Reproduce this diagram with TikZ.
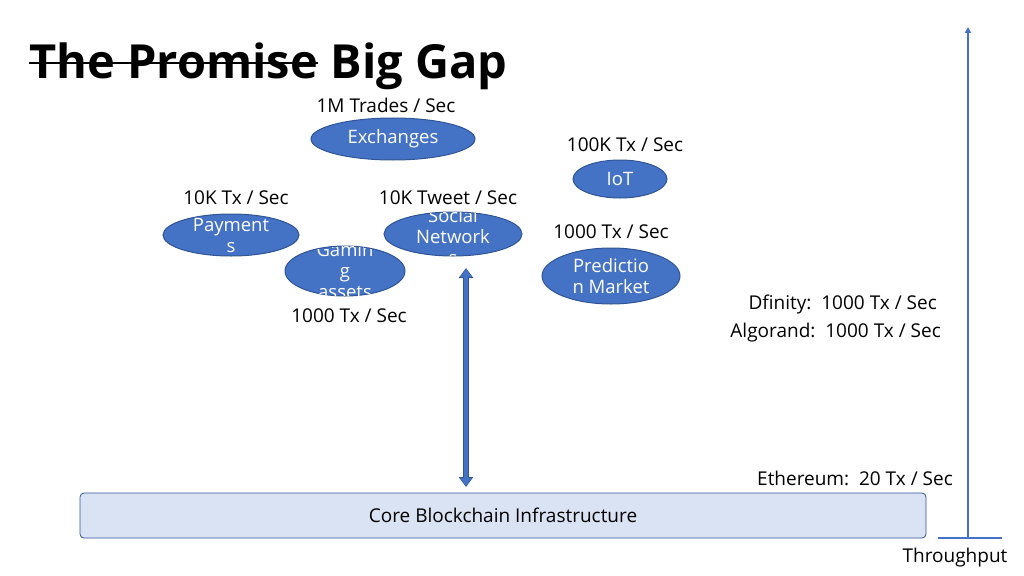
\documentclass[tikz,border=0pt]{standalone}
\usepackage{fontspec}
\setmainfont{Open Sans}
\usetikzlibrary{shapes.geometric,arrows.meta}
\begin{document}
\begin{tikzpicture}[x=1pt,y=-1pt,
 lab/.style={font=\fontsize{19}{22}\selectfont,text=black},
 bub/.style={ellipse,fill=blue1,draw=blue2,line width=1pt,inner sep=0pt},
 btxt/.style={font=\fontsize{18.5}{21}\selectfont,text=white,align=center}]
\definecolor{blue1}{HTML}{4472C4}
\definecolor{blue2}{HTML}{2F5597}
\definecolor{boxf}{HTML}{DAE3F3}
\path[use as bounding box] (0,0) rectangle (1024,575);
% title
\node[anchor=base west,inner sep=0,font=\fontsize{47}{52}\selectfont\bfseries] (tp) at (29,79) {The Promise};
\node[anchor=base west,inner sep=0,font=\fontsize{47}{52}\selectfont\bfseries] (bg) at (tp.base east) {\ Big Gap};
\draw[line width=2pt] (tp.west |- 0,63) coordinate (s1) -- (tp.east |- 0,63) coordinate (s2);
% bubbles
\node[bub,minimum width=164,minimum height=42] (ex) at (393,139) {};
\node[btxt] at (ex) {Exchanges};
\node[bub,minimum width=94,minimum height=38] (iot) at (620,179) {};
\node[btxt] at (iot) {IoT};
\node[bub,minimum width=136,minimum height=42] (pay) at (231,235) {};
\begin{scope}\clip (231,235) ellipse (68 and 21);
\node[btxt] at (231,235) {Payment\\s};\end{scope}
\node[bub,minimum width=138,minimum height=44] (soc) at (453,234) {};
\begin{scope}\clip (453,234) ellipse (69 and 22);
\node[btxt] at (453,237) {Social\\Network\\s};\end{scope}
\node[bub,minimum width=120,minimum height=50] (gam) at (345,271) {};
\begin{scope}\clip (345,271) ellipse (60 and 25);
\node[btxt] at (345,271) {Gamin\\g\\assets};\end{scope}
\node[bub,minimum width=138,minimum height=56] (pre) at (611,276) {};
\node[btxt] at (pre) {Predictio\\n Market};
% labels
\node[lab] (l1) at (386,105) {1M Trades / Sec};
\node[lab] (l2) at (625,145) {100K Tx / Sec};
\node[lab] (l3) at (236,198) {10K Tx / Sec};
\node[lab] (l4) at (448,198) {10K Tweet / Sec};
\node[lab] (l5) at (611,232) {1000 Tx / Sec};
\node[lab] (l6) at (349,316) {1000 Tx / Sec};
\node[lab,anchor=east,inner sep=0] (l7) at (937,305) {Dfinity:\ \ 1000 Tx / Sec};
\node[lab,anchor=east,inner sep=0] (l8) at (941,333) {Algorand:\ \ 1000 Tx / Sec};
\node[lab,anchor=east,inner sep=0] (l9) at (953,478) {Ethereum:\ \ 20 Tx / Sec};
\node[lab] (l10) at (955,558) {Throughput};
% box
\node[draw=blue2,fill=boxf,rounded corners=4pt,line width=0.8pt,minimum width=846,minimum height=45,lab] (core) at (503,515.5) {Core Blockchain Infrastructure};
% double arrow
\coordinate (a1) at (466,268);
\coordinate (a2) at (466,487);
\draw[draw=blue2,line width=6pt,{Triangle[width=14pt,length=10pt]}-{Triangle[width=14pt,length=10pt]}] (a1) -- (a2);
\draw[draw=blue1,line width=4.5pt,{Triangle[width=11pt,length=8pt]}-{Triangle[width=11pt,length=8pt]},shorten <=1pt,shorten >=1pt] (a1) -- (a2);
% axis
\coordinate (o) at (968,538);
\coordinate (t) at (968,27);
\coordinate (h1) at (938,538);
\coordinate (h2) at (1002,538);
\draw[blue1,line width=2pt,-{Triangle[width=6pt,length=6pt]}] (o) -- (t);
\draw[blue1,line width=2pt] (h1) -- (h2);
\end{tikzpicture}
\end{document}
